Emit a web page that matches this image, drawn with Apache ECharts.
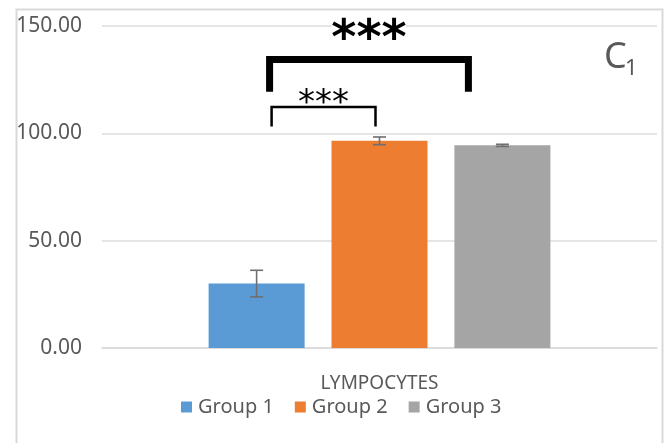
<!DOCTYPE html>
<html>
<head>
<meta charset="utf-8">
<script src="https://cdn.jsdelivr.net/npm/echarts@6/dist/echarts.min.js"></script>
<style>
  html, body { margin: 0; padding: 0; background: #fff; }
  #chart { width: 667px; height: 443px; }
</style>
</head>
<body>
<div id="chart"></div>
<script>
// Lymphocyte counts per group (mean ± error)
const categories = ['LYMPOCYTES'];
const groupNames = ['Group 1', 'Group 2', 'Group 3'];
const groupMeans = [30.0, 96.5, 94.4];
const groupErrors = [6.2, 1.8, 0.5];
const yTicks = [0, 50, 100, 150];

// Significance brackets between groups
const comparisons = [
  { from: 0, to: 1, label: '***' },
  { from: 0, to: 2, label: '***' }
];

const colors = ['#5B9BD5', '#ED7D31', '#A5A5A5'];
const textColor = '#595959';
const font = '"Noto Sans", sans-serif';

// Bar geometry as fractions of the category band
const BAR_FRAC = 0.173;
const GAP_FRAC = 0.28;

function barCenterX(api, gi) {
  const c = api.coord([0, 0])[0];
  const band = api.size([1, 0])[0];
  const w = band * BAR_FRAC;
  return c + (gi - 1) * w * (1 + GAP_FRAC);
}

// Layout of each bracket: heights in data units, horizontal nudges in px
const bracketLayout = [
  { top: 112.3, bottom: 103.2, dx0: 15, dx1: -4, width: 2.5, labelY: 113.8, fontSize: 34 },
  { top: 134.4, bottom: 119.4, dx0: 13, dx1: -34, width: 7, labelY: 143.4, fontSize: 48 }
];

const series = groupNames.map((name, i) => ({
  name: name,
  type: 'bar',
  barWidth: (BAR_FRAC * 100) + '%',
  barGap: (GAP_FRAC * 100) + '%',
  itemStyle: { color: colors[i] },
  data: [groupMeans[i]],
  z: 2
}));

// Error bars
series.push({
  type: 'custom',
  name: 'errors',
  z: 3,
  data: groupMeans.map((m, i) => [0, m - groupErrors[i], m + groupErrors[i], i]),
  encode: { x: 0, y: [1, 2] },
  renderItem: function (params, api) {
    const gi = api.value(3);
    const x = barCenterX(api, gi);
    const yLo = api.coord([0, api.value(1)])[1];
    const yHi = api.coord([0, api.value(2)])[1];
    const cap = 6.5;
    const st = { stroke: '#6f6f6f', lineWidth: 1.6 };
    return {
      type: 'group',
      children: [
        { type: 'line', shape: { x1: x, y1: yLo, x2: x, y2: yHi }, style: st },
        { type: 'line', shape: { x1: x - cap, y1: yLo, x2: x + cap, y2: yLo }, style: st },
        { type: 'line', shape: { x1: x - cap, y1: yHi, x2: x + cap, y2: yHi }, style: st }
      ]
    };
  },
  tooltip: { show: false }
});

// Significance brackets with star labels
series.push({
  type: 'custom',
  name: 'brackets',
  z: 4,
  data: comparisons.map((c, i) => [0, bracketLayout[i].top, c.from, c.to, i]),
  encode: { x: 0, y: 1 },
  renderItem: function (params, api) {
    const idx = api.value(4);
    const L = bracketLayout[idx];
    const x0 = barCenterX(api, api.value(2)) + L.dx0;
    const x1 = barCenterX(api, api.value(3)) + L.dx1;
    const yT = api.coord([0, L.top])[1];
    const yB = api.coord([0, L.bottom])[1];
    const yL = api.coord([0, L.labelY])[1];
    const mid = (x0 + x1) / 2;
    const st = { stroke: '#000', lineWidth: L.width, fill: null, lineJoin: 'miter', lineCap: 'butt' };
    const children = [];
    if (idx === 1) {
      // clear the gridline behind the stars
      children.push({ type: 'rect', shape: { x: mid - 37, y: yL - 24, width: 74, height: 24 }, style: { fill: '#fff' } });
    }
    children.push({
      type: 'polyline',
      shape: { points: [[x0, yB], [x0, yT], [x1, yT], [x1, yB]] },
      style: st
    });
    children.push({
      type: 'text',
      x: mid,
      y: yL,
      style: {
        text: comparisons[idx].label,
        fill: '#000',
        font: (idx === 1 ? 'bold ' : '') + L.fontSize + 'px "DejaVu Sans", sans-serif',
        align: 'center',
        verticalAlign: 'middle'
      }
    });
    return { type: 'group', children: children };
  }
});

const chart = echarts.init(document.getElementById('chart'), null, { renderer: 'canvas' });
chart.setOption({
  animation: false,
  backgroundColor: '#fff',
  textStyle: { fontFamily: font },
  grid: { left: 102, right: 10, top: 26, bottom: 95, containLabel: false },
  xAxis: {
    type: 'category',
    data: categories,
    axisLine: { show: true, lineStyle: { color: '#d9d9d9', width: 1.5 } },
    axisTick: { show: false },
    axisLabel: { color: textColor, fontSize: 19, margin: 26, fontFamily: font }
  },
  yAxis: {
    type: 'value',
    min: yTicks[0],
    max: yTicks[yTicks.length - 1],
    interval: yTicks[1] - yTicks[0],
    axisLine: { show: false },
    axisTick: { show: false },
    splitLine: { lineStyle: { color: '#dcdcdc', width: 1.5 } },
    axisLabel: {
      color: textColor,
      fontSize: 21,
      margin: 20,
      fontFamily: font,
      formatter: v => v.toFixed(2)
    }
  },
  legend: {
    data: groupNames,
    left: 181,
    top: 397,
    padding: 0,
    icon: 'rect',
    itemWidth: 11,
    itemHeight: 11,
    itemGap: 21,
    textStyle: { color: textColor, fontSize: 20, fontFamily: font, padding: [0, 0, 0, 1] }
  },
  graphic: [
    {
      type: 'rect',
      left: 14, top: 7,
      shape: { width: 646, height: 450 },
      style: { fill: null, stroke: '#d9d9d9', lineWidth: 2 },
      silent: true
    },
    {
      type: 'text',
      left: 604, top: 40,
      style: { text: 'C', fill: textColor, font: '36px "Noto Sans", sans-serif' }
    },
    {
      type: 'text',
      left: 625, top: 58,
      style: { text: '1', fill: textColor, font: '22px "Noto Sans", sans-serif' }
    }
  ],
  series: series
});
</script>
</body>
</html>
